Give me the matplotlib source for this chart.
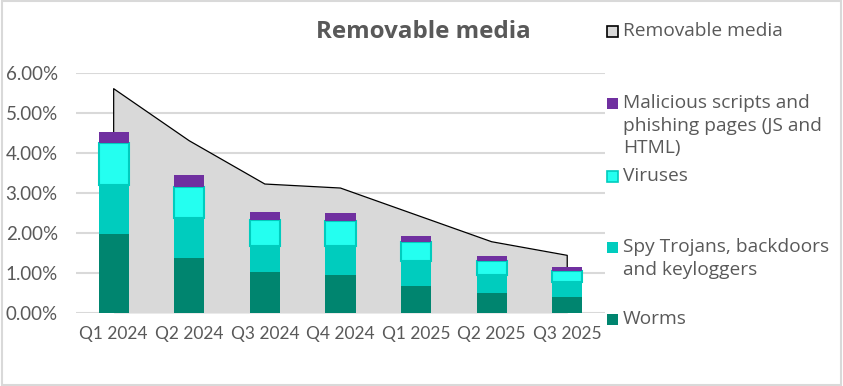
import matplotlib
matplotlib.use("Agg")
import matplotlib.pyplot as plt
from matplotlib.patches import Rectangle

plt.rcParams['font.family'] = ['Lato', 'DejaVu Sans']

quarters = ['Q1 2024', 'Q2 2024', 'Q3 2024', 'Q4 2024', 'Q1 2025', 'Q2 2025', 'Q3 2025']
removable = [5.60, 4.30, 3.22, 3.12, 2.45, 1.78, 1.44]
worms = [1.98, 1.37, 1.03, 0.95, 0.67, 0.50, 0.40]
spy = [1.22, 0.99, 0.65, 0.73, 0.64, 0.45, 0.37]
viruses = [1.04, 0.79, 0.64, 0.62, 0.46, 0.35, 0.27]
scripts = [0.28, 0.30, 0.20, 0.20, 0.16, 0.12, 0.11]

legend_labels = ['Removable media',
                 'Malicious scripts and\nphishing pages (JS and\nHTML)',
                 'Viruses',
                 'Spy Trojans, backdoors\nand keyloggers',
                 'Worms']

c_area = '#d9d9d9'
c_worms = '#00856f'
c_spy = '#00ccbe'
c_vir = '#24fff0'
c_scr = '#7030a0'
c_text = '#595959'

fig = plt.figure(figsize=(8.43, 3.86), dpi=100)
ax = fig.add_axes([0.090, 0.189, 0.6277, 0.6228])

x = list(range(len(quarters)))
ax.fill_between(x, removable, 0, color=c_area, zorder=1, lw=0)
ax.plot([x[0]] + x + [x[-1]], [0] + removable + [0], color='black', lw=0.9, zorder=1.5)

w = 0.4
b1 = worms
b2 = [a + b for a, b in zip(b1, spy)]
b3 = [a + b for a, b in zip(b2, viruses)]
ax.bar(x, worms, w, color=c_worms, zorder=2)
ax.bar(x, spy, w, bottom=b1, color=c_spy, zorder=2)
ax.bar(x, viruses, w, bottom=b2, color=c_vir, edgecolor=c_spy, lw=1.5, zorder=2)
ax.bar(x, scripts, w, bottom=b3, color=c_scr, zorder=2)

ax.set_xlim(-0.5, 6.5)
ax.set_ylim(0, 6)
ax.set_yticks(range(7))
ax.set_yticklabels([f'{v:.2f}%' for v in range(7)])
ax.set_xticks(x)
ax.set_xticklabels(quarters)
ax.yaxis.grid(True, color=c_area, lw=1.5, zorder=0)
ax.set_axisbelow(True)
for s in ax.spines.values():
    s.set_visible(False)
ax.tick_params(length=0, labelsize=12.5, colors=c_text)
ax.tick_params(axis='y', pad=13)
ax.tick_params(axis='x', pad=9)
for t in ax.get_yticklabels():
    t.set_fontsize(13.5)

fig.text(423.5 / 843, 1 - 32 / 386, 'Removable media', ha='center', va='center',
         fontsize=17.4, fontweight='bold', color=c_text, family='Open Sans')

# legend drawn by hand to keep the Excel spacing
leg_y = [31, 103, 176, 247, 319]
leg_colors = [c_area, c_scr, c_vir, c_spy, c_worms]
leg_edges = ['black', c_scr, c_spy, c_spy, c_worms]
for yy, lab, fc, ec in zip(leg_y, legend_labels, leg_colors, leg_edges):
    fig.patches.append(Rectangle((607 / 843, 1 - (yy + 6) / 386), 11 / 843, 11 / 386,
                                 transform=fig.transFigure, facecolor=fc, edgecolor=ec,
                                 lw=1.2 if ec != fc else 0))
    fig.text(623 / 843, 1 - (yy - 9) / 386, lab, ha='left', va='top',
             fontsize=13.8, color=c_text, linespacing=1.33, family='Open Sans')

fig.patches.append(Rectangle((0.002, 0.003), 0.996, 0.994, transform=fig.transFigure,
                             fill=False, edgecolor=c_area, lw=1.5))

fig.savefig('out.png', dpi=100)
